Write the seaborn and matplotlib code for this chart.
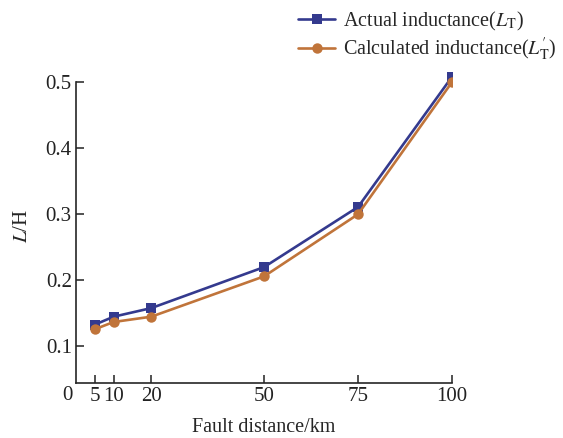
import matplotlib
matplotlib.use("Agg")

import matplotlib.pyplot as plt
import seaborn as sns

# data
distance_km = [5, 10, 20, 50, 75, 100]
actual_L = [0.133, 0.145, 0.158, 0.220, 0.311, 0.508]
calc_L = [0.126, 0.137, 0.145, 0.206, 0.300, 0.500]
x_ticks = [5, 10, 20, 50, 75, 100]
y_ticks = [0.1, 0.2, 0.3, 0.4, 0.5]

sns.set_style("ticks")
plt.rcParams["font.family"] = ["Liberation Serif", "DejaVu Serif"]
plt.rcParams["mathtext.fontset"] = "stix"

fig = plt.figure(figsize=(5.63, 4.38), dpi=100)
ax = fig.add_axes([0.135, 0.126, 0.668, 0.717])

sns.lineplot(x=distance_km, y=actual_L, ax=ax, color="#343a8e", marker="s",
             markersize=6.5, markeredgewidth=0, linewidth=1.9,
             label=r"Actual inductance($L_{\mathrm{T}}$)")
sns.lineplot(x=distance_km, y=calc_L, ax=ax, color="#c0743a", marker="o",
             markersize=7.5, markeredgewidth=0, linewidth=1.9,
             label=r"Calculated inductance($L^{\prime}_{\mathrm{T}}$)")

ax.set_xlim(0, 100)
ax.set_ylim(0.045, 0.52)
ax.set_xticks(x_ticks)
ax.set_yticks(y_ticks)
ax.set_yticklabels([f"{v:.1f}" for v in y_ticks])
ax.tick_params(direction="in", length=6, width=1.1, labelsize=15,
               colors="#222222", pad=3)

# "0" sits at the corner without a tick
ax.annotate("0", xy=(0, 0), xycoords=("data", "axes fraction"),
            xytext=(-6, -2.5), textcoords="offset points",
            ha="center", va="top", fontsize=15, color="#222222")

for side in ["top", "right"]:
    ax.spines[side].set_visible(False)
ax.spines["left"].set_bounds(0.045, 0.5)
ax.spines["left"].set_linewidth(1.2)
ax.spines["bottom"].set_linewidth(1.2)

ax.set_xlabel("Fault distance/km", fontsize=14.5, labelpad=9)
ax.set_ylabel(r"$L$/H", fontsize=15, labelpad=10)

leg = ax.legend(loc="upper left", bbox_to_anchor=(298 / 563, 1 - 10 / 438),
                bbox_transform=fig.transFigure, frameon=False, fontsize=14.5,
                handlelength=1.85, handletextpad=0.4, labelspacing=0.12,
                borderpad=0, borderaxespad=0)

fig.savefig("out.png", dpi=100)
